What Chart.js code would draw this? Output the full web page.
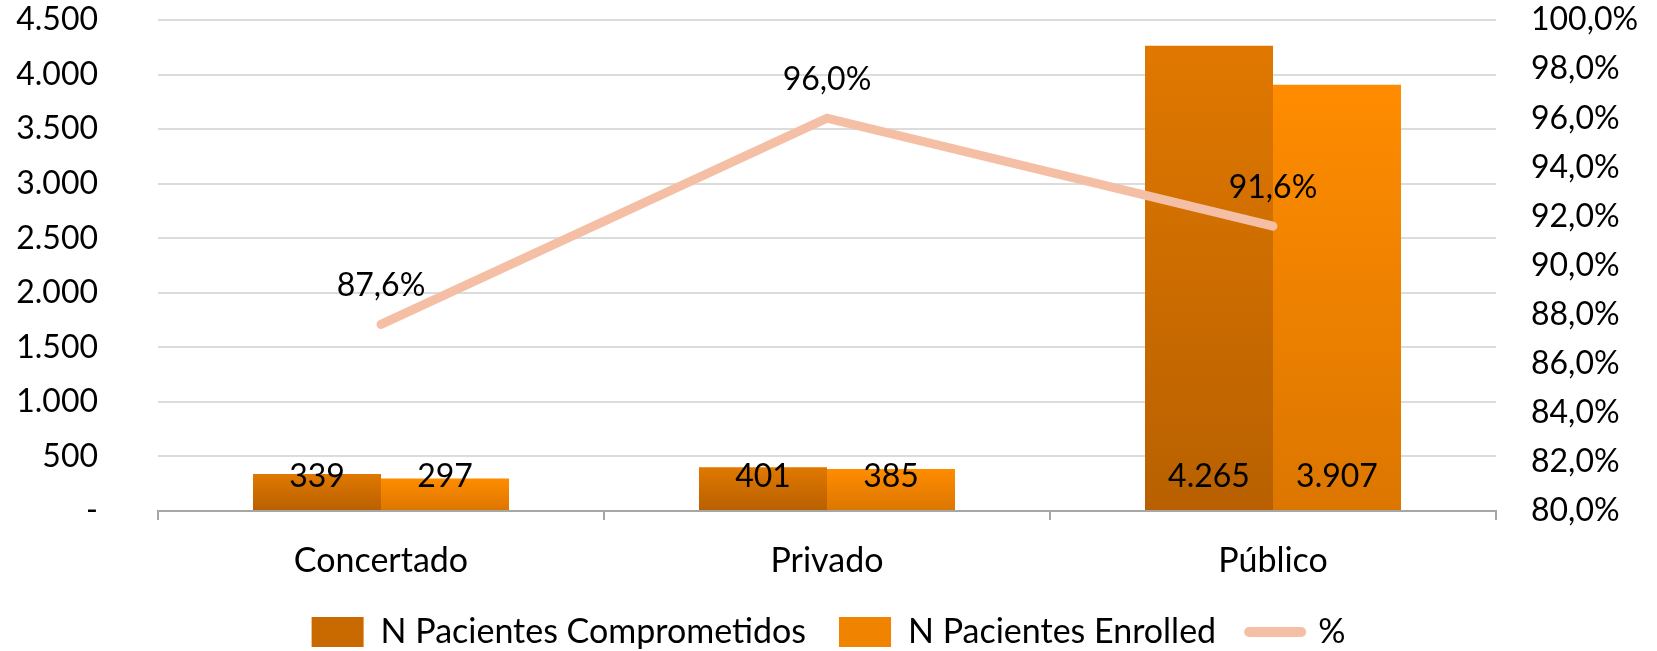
<!DOCTYPE html>
<html>
<head>
<meta charset="utf-8">
<script src="https://cdn.jsdelivr.net/npm/chart.js@4"></script>
<style>
  html, body { margin: 0; padding: 0; background: #fff; }
  #wrap { width: 1657px; height: 651px; }
</style>
</head>
<body>
<div id="wrap"><canvas id="pacientesChart"></canvas></div>
<script>
const categorias = ['Concertado', 'Privado', 'Público'];
const comprometidos = [339, 401, 4265];
const enrolled = [297, 385, 3907];
const porcentaje = [87.6, 96.0, 91.6];

const FONT = 'Lato';

function fmtMiles(v) {
    if (v === 0) return '-';
    return String(v).replace(/\B(?=(\d{3})+(?!\d))/g, '.');
}
function fmtPct(v) {
    return v.toFixed(1).replace('.', ',') + '%';
}

// degradado vertical por barra
function barGradient(top, bottom) {
    return function (context) {
        const chart = context.chart;
        const y = chart.scales.y;
        if (!y || context.type !== 'data') return top;
        const y0 = y.getPixelForValue(0);
        const y1 = y.getPixelForValue(context.raw);
        if (!isFinite(y0) || !isFinite(y1) || y0 === y1) return top;
        const g = chart.ctx.createLinearGradient(0, y1, 0, y0);
        g.addColorStop(0, top);
        g.addColorStop(1, bottom);
        return g;
    };
}

const valueLabels = {
    id: 'valueLabels',
    afterDatasetsDraw(chart) {
        const ctx = chart.ctx;
        ctx.save();
        ctx.fillStyle = '#000';
        ctx.font = '32px ' + FONT;
        ctx.textAlign = 'center';
        ctx.textBaseline = 'middle';
        chart.data.datasets.forEach((ds, i) => {
            const meta = chart.getDatasetMeta(i);
            meta.data.forEach((el, j) => {
                if (ds.type === 'line') {
                    ctx.fillText(fmtPct(ds.data[j]), el.x, el.y - 39);
                } else {
                    ctx.fillText(fmtMiles(ds.data[j]), el.x, el.base - 33);
                }
            });
        });
        ctx.restore();
    }
};

new Chart(document.getElementById('pacientesChart'), {
    data: {
        labels: categorias,
        datasets: [{
            type: 'line',
            label: '%',
            data: porcentaje,
            yAxisID: 'y1',
            borderColor: '#f4bfa5',
            backgroundColor: '#f4bfa5',
            borderWidth: 9,
            borderCapStyle: 'round',
            pointRadius: 0,
            tension: 0,
            order: 0
        }, {
            type: 'bar',
            label: 'N Pacientes Comprometidos',
            data: comprometidos,
            yAxisID: 'y',
            backgroundColor: barGradient('#e07800', '#b86000'),
            barPercentage: 1,
            categoryPercentage: 0.574,
            order: 1
        }, {
            type: 'bar',
            label: 'N Pacientes Enrolled',
            data: enrolled,
            yAxisID: 'y',
            backgroundColor: barGradient('#ff8c00', '#dc7600'),
            barPercentage: 1,
            categoryPercentage: 0.574,
            order: 1
        }]
    },
    options: {
        responsive: true,
        maintainAspectRatio: false,
        animation: false,
        layout: { padding: { top: 20, left: 0, right: 0, bottom: 0 } },
        plugins: {
            tooltip: { enabled: false },
            legend: {
                position: 'bottom',
                maxHeight: 69,
                labels: {
                    font: { family: FONT, size: 34 },
                    color: '#000',
                    usePointStyle: true,
                    pointStyleWidth: 52,
                    boxHeight: 30,
                    padding: 33,
                    generateLabels(chart) {
                        const fills = ['#c86a00', '#f08400'];
                        return [1, 2, 0].map((i, k) => {
                            const ds = chart.data.datasets[i];
                            const isLine = ds.type === 'line';
                            return {
                                text: ds.label,
                                datasetIndex: i,
                                fillStyle: isLine ? '#f4bfa5' : fills[k],
                                strokeStyle: isLine ? '#f4bfa5' : fills[k],
                                lineWidth: isLine ? 10 : 0,
                                lineCap: 'round',
                                pointStyle: isLine ? 'line' : 'rect',
                                fontColor: '#000'
                            };
                        });
                    }
                }
            }
        },
        scales: {
            x: {
                grid: { offset: true, drawOnChartArea: false, color: '#a6a6a6', lineWidth: 2, tickLength: 9 },
                border: { color: '#a6a6a6', width: 2 },
                ticks: { font: { family: FONT, size: 34 }, color: '#000', padding: 21 },
                afterFit(scale) { scale.height = 71; }
            },
            y: {
                position: 'left', min: 0, max: 4500,
                ticks: { stepSize: 500, font: { family: FONT, size: 32 }, color: '#000', padding: 0, callback: v => fmtMiles(v) },
                grid: { color: '#dcdcdc', lineWidth: 2, tickLength: 60, tickColor: 'rgba(0,0,0,0)' },
                border: { display: false },
                afterFit(scale) { scale.width = 158; }
            },
            y1: {
                position: 'right', min: 80, max: 100,
                ticks: { stepSize: 2, font: { family: FONT, size: 32 }, color: '#000', padding: 0, callback: v => fmtPct(v) },
                grid: { drawOnChartArea: false, tickLength: 35, tickColor: 'rgba(0,0,0,0)' },
                border: { display: false },
                afterFit(scale) { scale.width = 161; }
            }
        }
    },
    plugins: [valueLabels]
});
</script>
</body>
</html>
